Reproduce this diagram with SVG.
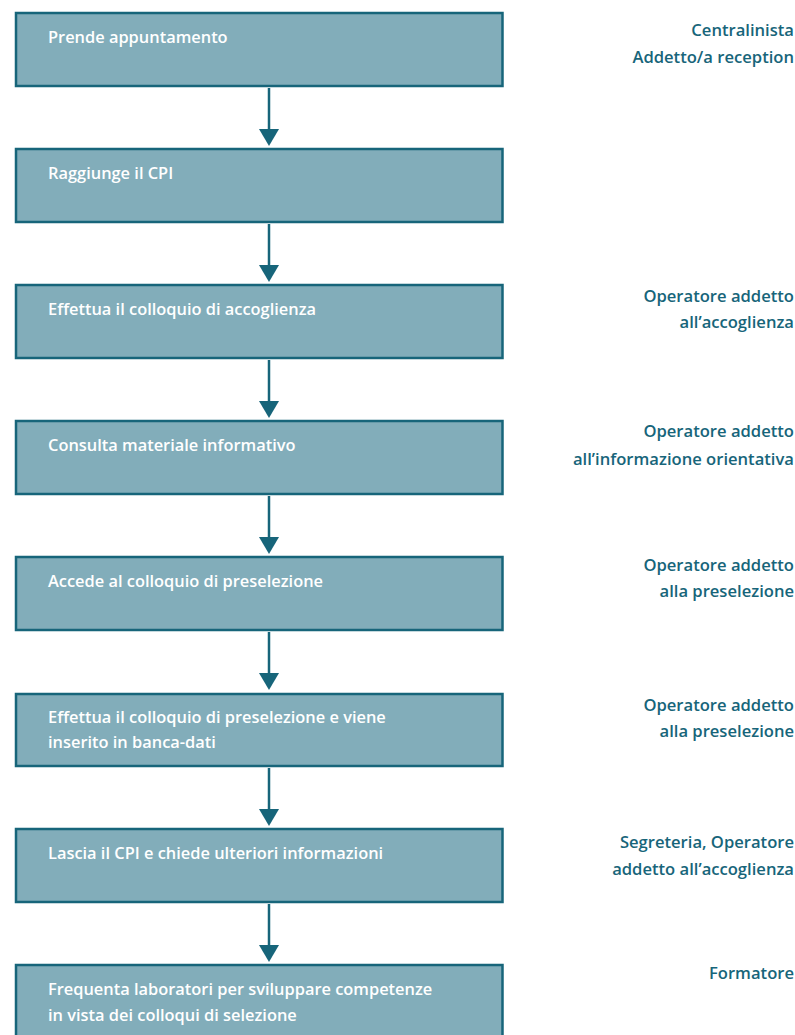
<svg xmlns="http://www.w3.org/2000/svg" width="795" height="1035" viewBox="0 0 795 1035">
  <defs>
    <style>
      .box { fill: #82adba; stroke: #17657a; stroke-width: 2.5; }
      .step { fill: #ffffff; font-family: "Open Sans", "Liberation Sans", sans-serif; font-weight: 600; font-size: 16.4px; }
      .role { fill: #17657a; font-family: "Open Sans", "Liberation Sans", sans-serif; font-weight: 600; font-size: 16.6px; text-anchor: end; }
      .flow { stroke: #17657a; stroke-width: 2.5; fill: none; }
      .head { fill: #17657a; }
    </style>
  </defs>
  <rect width="795" height="1035" fill="#ffffff"/>

  <!-- connectors between steps -->
  <g id="connectors">
    <line class="flow" x1="269" y1="88" x2="269" y2="131"/>
    <polygon class="head" points="259,129 279,129 269,146"/>
    <line class="flow" x1="269" y1="224" x2="269" y2="267"/>
    <polygon class="head" points="259,265 279,265 269,282"/>
    <line class="flow" x1="269" y1="360" x2="269" y2="403"/>
    <polygon class="head" points="259,401 279,401 269,418"/>
    <line class="flow" x1="269" y1="496" x2="269" y2="539"/>
    <polygon class="head" points="259,537 279,537 269,554"/>
    <line class="flow" x1="269" y1="632" x2="269" y2="675"/>
    <polygon class="head" points="259,673 279,673 269,690"/>
    <line class="flow" x1="269" y1="768" x2="269" y2="811"/>
    <polygon class="head" points="259,809 279,809 269,826"/>
    <line class="flow" x1="269" y1="904" x2="269" y2="947"/>
    <polygon class="head" points="259,945 279,945 269,962"/>
  </g>

  <g id="step1">
    <rect class="box" x="16" y="13" width="486.5" height="73"/>
    <text class="step" x="48" y="43">Prende appuntamento</text>
    <text class="role" x="794" y="36">Centralinista</text>
    <text class="role" x="794" y="63">Addetto/a reception</text>
  </g>

  <g id="step2">
    <rect class="box" x="16" y="149" width="486.5" height="73"/>
    <text class="step" x="48" y="179">Raggiunge il CPI</text>
  </g>

  <g id="step3">
    <rect class="box" x="16" y="285" width="486.5" height="73"/>
    <text class="step" x="48" y="315">Effettua il colloquio di accoglienza</text>
    <text class="role" x="794" y="302">Operatore addetto</text>
    <text class="role" x="794" y="328">all’accoglienza</text>
  </g>

  <g id="step4">
    <rect class="box" x="16" y="421" width="486.5" height="73"/>
    <text class="step" x="48" y="451">Consulta materiale informativo</text>
    <text class="role" x="794" y="437">Operatore addetto</text>
    <text class="role" x="794" y="465">all’informazione orientativa</text>
  </g>

  <g id="step5">
    <rect class="box" x="16" y="557" width="486.5" height="73"/>
    <text class="step" x="48" y="587">Accede al colloquio di preselezione</text>
    <text class="role" x="794" y="571">Operatore addetto</text>
    <text class="role" x="794" y="597">alla preselezione</text>
  </g>

  <g id="step6">
    <rect class="box" x="16" y="694" width="486.5" height="72"/>
    <text class="step" x="48" y="723">Effettua il colloquio di preselezione e viene</text>
    <text class="step" x="48" y="748">inserito in banca-dati</text>
    <text class="role" x="794" y="711">Operatore addetto</text>
    <text class="role" x="794" y="737">alla preselezione</text>
  </g>

  <g id="step7">
    <rect class="box" x="16" y="829" width="486.5" height="73"/>
    <text class="step" x="48" y="859">Lascia il CPI e chiede ulteriori informazioni</text>
    <text class="role" x="794" y="848">Segreteria, Operatore</text>
    <text class="role" x="794" y="875">addetto all’accoglienza</text>
  </g>

  <g id="step8">
    <rect class="box" x="16" y="965" width="486.5" height="80"/>
    <text class="step" x="48" y="995">Frequenta laboratori per sviluppare competenze</text>
    <text class="step" x="48" y="1021">in vista dei colloqui di selezione</text>
    <text class="role" x="794" y="979">Formatore</text>
  </g>
</svg>
